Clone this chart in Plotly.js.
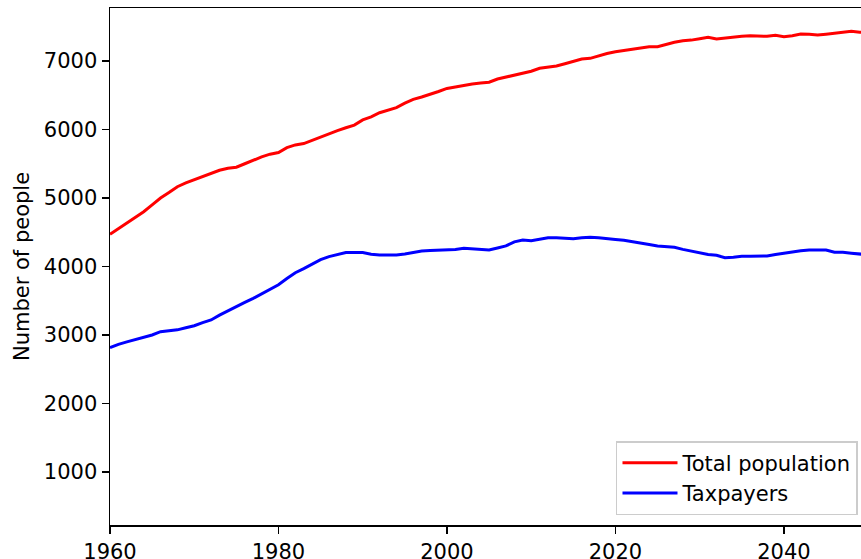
<!DOCTYPE html>
<html>
<head>
<meta charset="utf-8">
<script src="https://cdn.plot.ly/plotly-3.0.1.min.js"></script>
<style>
html,body{margin:0;padding:0;background:#fff;}
#chart{width:861px;height:559px;}
</style>
</head>
<body>
<div id="chart"></div>
<script>
const years = [];
for (let y = 1960; y <= 2050; y++) years.push(y);

const totalPopulation = [
  4470, 4550, 4630, 4720, 4800, 4900, 5000, 5080, 5165, 5220,
  5265, 5315, 5355, 5405, 5435, 5450, 5500, 5555, 5600, 5640,
  5665, 5735, 5775, 5795, 5845, 5895, 5945, 5985, 6025, 6065,
  6140, 6185, 6245, 6280, 6320, 6385, 6440, 6475, 6510, 6555,
  6600, 6625, 6645, 6665, 6680, 6690, 6737, 6765, 6796, 6820,
  6850, 6893, 6910, 6927, 6960, 6995, 7030, 7039, 7075, 7110,
  7135, 7155, 7165, 7195, 7209, 7210, 7245, 7275, 7297, 7305,
  7325, 7346, 7321, 7335, 7355, 7360, 7370, 7365, 7360, 7375,
  7355, 7370, 7394, 7390, 7380, 7392, 7405, 7420, 7434, 7420,
  7415
];

const taxpayers = [
  2815, 2864, 2900, 2930, 2965, 3000, 3048, 3058, 3075, 3105,
  3135, 3180, 3220, 3290, 3355, 3413, 3475, 3535, 3605, 3670,
  3734, 3825, 3909, 3970, 4040, 4100, 4145, 4175, 4204, 4204,
  4204, 4180, 4168, 4168, 4168, 4183, 4200, 4226, 4232, 4238,
  4241, 4250, 4266, 4258, 4251, 4241, 4270, 4300, 4360, 4387,
  4377, 4400, 4421, 4421, 4415, 4406, 4420, 4426, 4418, 4412,
  4395, 4382, 4365, 4345, 4320, 4299, 4290, 4280, 4250, 4225,
  4195, 4175, 4163, 4129, 4135, 4149, 4150, 4152, 4153, 4175,
  4195, 4210, 4230, 4241, 4241, 4241, 4207, 4207, 4195, 4178,
  4170
];

const seriesNames = ["Total population", "Taxpayers"];
const xTicks = [1960, 1980, 2000, 2020, 2040];
const yTicks = [1000, 2000, 3000, 4000, 5000, 6000, 7000];

const font = {family: "DejaVu Sans, sans-serif", size: 21, color: "#000"};

const traces = [
  {x: years, y: totalPopulation, name: seriesNames[0], mode: "lines",
   line: {color: "#ff0000", width: 3}},
  {x: years, y: taxpayers, name: seriesNames[1], mode: "lines",
   line: {color: "#0000ff", width: 3}}
];

const layout = {
  width: 861, height: 559,
  margin: {l: 110, r: 0, t: 8, b: 34, pad: 0},
  paper_bgcolor: "#fff", plot_bgcolor: "#fff",
  font: font,
  showlegend: true,
  xaxis: {
    range: [1960, 2049.15], tickvals: xTicks, ticktext: xTicks.map(String),
    showgrid: false, zeroline: false, showline: true, mirror: true,
    linecolor: "#000", linewidth: 1.5, ticks: "outside", ticklen: 7,
    tickwidth: 1.5, tickcolor: "#000", tickfont: font, automargin: false
  },
  yaxis: {
    range: [226, 7774], tickvals: yTicks, ticktext: yTicks.map(String),
    showgrid: false, zeroline: false, showline: true, mirror: false,
    linecolor: "#000", linewidth: 1.5, ticks: "outside", ticklen: 7,
    tickwidth: 1.5, tickcolor: "#000", tickfont: font, automargin: false,
    title: {text: "Number of people", font: font, standoff: 8}
  },
  legend: {
    x: 0.996, y: 0.0193, xanchor: "right", yanchor: "bottom",
    bgcolor: "rgba(255,255,255,0.85)", bordercolor: "#cccccc", borderwidth: 1.5,
    font: font, tracegroupgap: 0, itemwidth: 55
  }
};

Plotly.newPlot("chart", traces, layout, {displayModeBar: false, staticPlot: true});
</script>
</body>
</html>
